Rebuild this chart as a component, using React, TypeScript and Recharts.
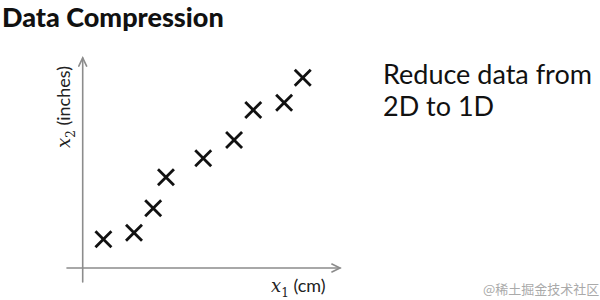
import React from 'react';
import { ScatterChart, Scatter, XAxis, YAxis, ReferenceLine } from 'recharts';

// sample points (x1 in cm, x2 in inches)
const x1Values = [1.31, 2.41, 3.1, 3.56, 4.9, 6.01, 6.7, 7.81, 8.48];
const x2Values = [1.88, 2.17, 3.25, 4.61, 5.45, 6.26, 7.58, 7.9, 9.0];

const points = x1Values.map((x, i) => ({ x, y: x2Values[i] }));

// hand-drawn style axes, in data units
const xAxisSegment = [{ x: 0, y: 0.617 }, { x: 9.82, y: 0.617 }];
const yAxisSegment = [{ x: 0.565, y: 0 }, { x: 0.565, y: 9.87 }];

const AXIS_COLOR = '#8c8c8c';

const Cross = (props: any) => {
  const { cx, cy } = props;
  const h = 7;
  return (
    <g stroke="#111" strokeWidth={2.8} strokeLinecap="square">
      <line x1={cx - h} y1={cy - h} x2={cx + h} y2={cy + h} />
      <line x1={cx - h} y1={cy + h} x2={cx + h} y2={cy - h} />
    </g>
  );
};

const Arrow = (props: any) => {
  const { x1, y1, x2, y2 } = props;
  const ang = Math.atan2(y2 - y1, x2 - x1);
  const len = 9;
  const spread = 0.45;
  const ax = x2 - len * Math.cos(ang - spread);
  const ay = y2 - len * Math.sin(ang - spread);
  const bx = x2 - len * Math.cos(ang + spread);
  const by = y2 - len * Math.sin(ang + spread);
  return (
    <g stroke={AXIS_COLOR} strokeWidth={1.6} fill="none" strokeLinecap="round">
      <line x1={x1} y1={y1} x2={x2} y2={y2} />
      <polyline points={`${ax},${ay} ${x2},${y2} ${bx},${by}`} />
    </g>
  );
};

const mathX = { fontFamily: '"DejaVu Serif", serif', fontStyle: 'italic' as const };
const subStyle = { fontSize: 12, fontFamily: '"DejaVu Serif", serif' };

export default function App() {
  return (
    <div style={{ position: 'absolute', left: 0, top: 0, width: 600, height: 300, background: '#fff', overflow: 'hidden' }}>
      <div style={{ position: 'absolute', left: 2, top: 0, fontFamily: 'Lato', fontWeight: 900, fontSize: 27, color: '#111' }}>
        Data Compression
      </div>

      <ScatterChart width={600} height={300} margin={{ top: 55, right: 255, bottom: 18, left: 67 }}>
        <XAxis type="number" dataKey="x" domain={[0, 10]} hide />
        <YAxis type="number" dataKey="y" domain={[0, 10]} hide />
        <ReferenceLine segment={xAxisSegment} shape={Arrow} />
        <ReferenceLine segment={yAxisSegment} shape={Arrow} />
        <Scatter data={points} shape={Cross} isAnimationActive={false} />
      </ScatterChart>

      <div style={{ position: 'absolute', left: 271, top: 274, fontFamily: 'Lato', fontSize: 18, color: '#222', whiteSpace: 'nowrap' }}>
        <span style={mathX}>x</span>
        <sub style={subStyle}>1</sub> (cm)
      </div>

      <div
        style={{
          position: 'absolute',
          left: 65,
          top: 107,
          transform: 'translate(-50%, -50%) rotate(-90deg)',
          fontFamily: 'Lato',
          fontSize: 18,
          color: '#222',
          whiteSpace: 'nowrap',
        }}
      >
        <span style={mathX}>x</span>
        <sub style={subStyle}>2</sub> (inches)
      </div>

      <div style={{ position: 'absolute', left: 383, top: 58, fontFamily: 'Lato', fontSize: 27, lineHeight: '32px', color: '#111' }}>
        Reduce data from
        <br />
        2D to 1D
      </div>

      <div style={{ position: 'absolute', left: 483, top: 279, fontFamily: '"Noto Sans CJK SC"', fontSize: 13, color: '#aaa', whiteSpace: 'nowrap' }}>
        @稀土掘金技术社区
      </div>
    </div>
  );
}
